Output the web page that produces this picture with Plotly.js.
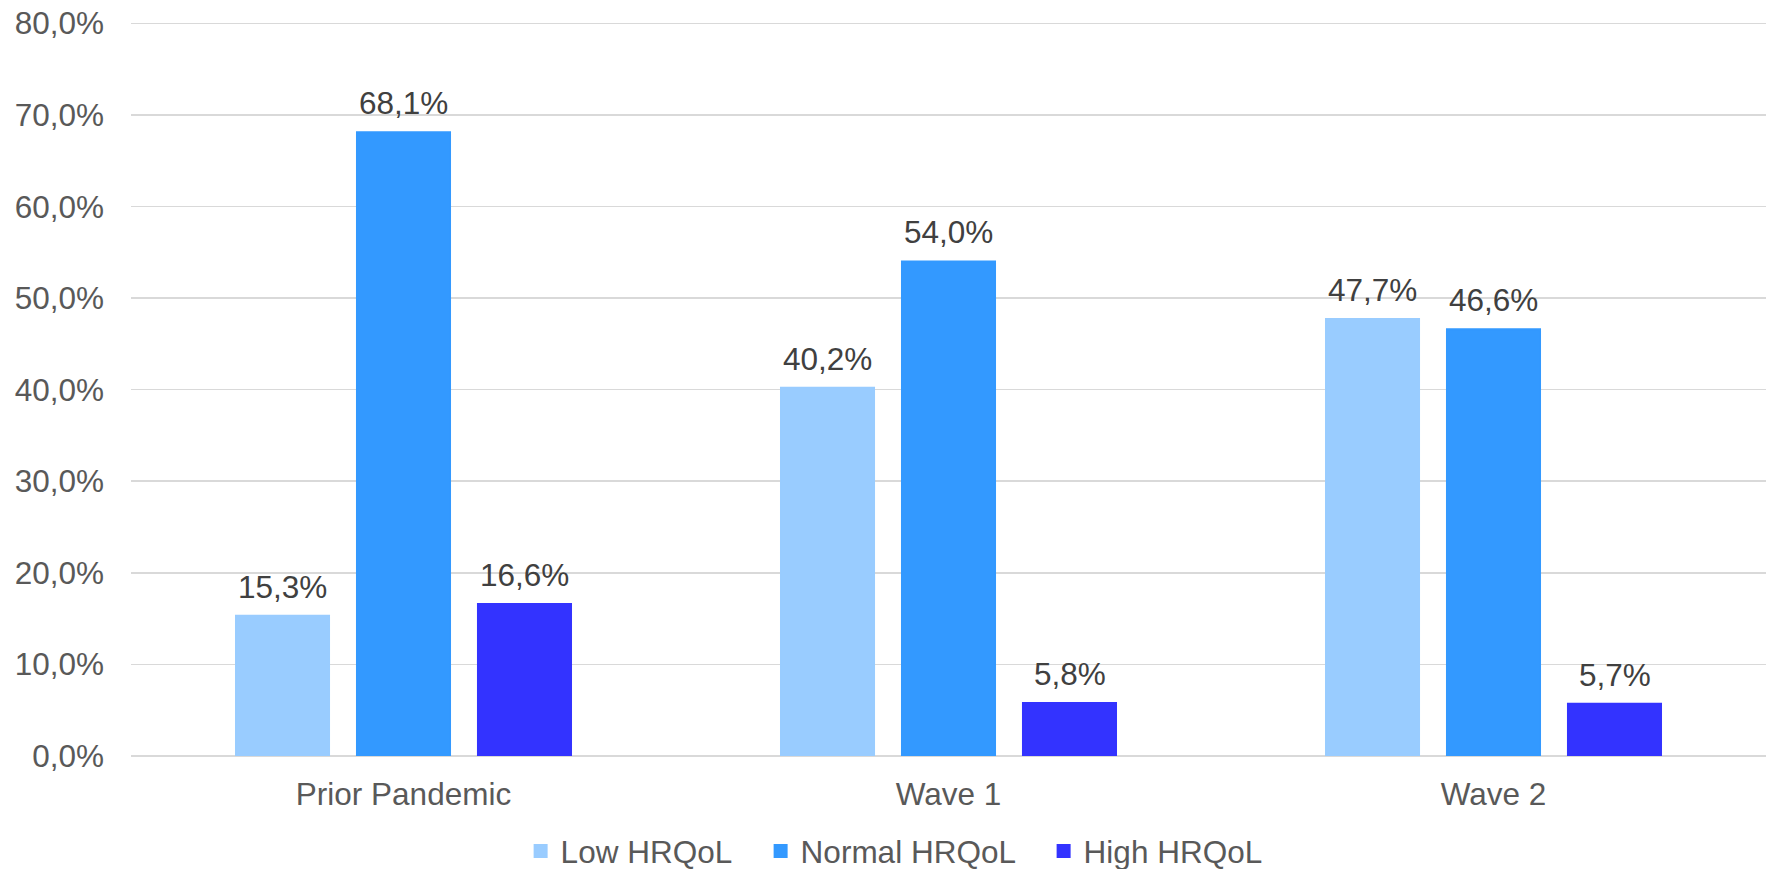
<!DOCTYPE html>
<html>
<head>
<meta charset="utf-8">
<script src="https://cdn.plot.ly/plotly-3.0.1.min.js"></script>
<style>html,body{margin:0;padding:0;background:#fff;}#chart{width:1771px;height:869px;}</style>
</head>
<body>
<div id="chart"></div>
<script>
const categories = ["Prior Pandemic", "Wave 1", "Wave 2"];
const lowHRQoL = [15.3, 40.2, 47.7];
const normalHRQoL = [68.1, 54.0, 46.6];
const highHRQoL = [16.6, 5.8, 5.7];
const seriesNames = ["Low HRQoL", "Normal HRQoL", "High HRQoL"];
const seriesColors = ["#99CCFF", "#3399FF", "#3333FF"];
const yTicks = [0, 10, 20, 30, 40, 50, 60, 70, 80];

const FONT = "Liberation Sans, Arial, sans-serif";
const FS = 31.5;
const seriesValues = [lowHRQoL, normalHRQoL, highHRQoL];
const legendWidths = [195, 238, 200];
const groupOffsets = [-121, 0, 121];

function fmt(v) { return v.toFixed(1).replace(".", ",") + "%"; }

const traces = seriesValues.map((vals, i) => ({
  type: "bar",
  name: seriesNames[i],
  x: categories,
  y: vals,
  marker: { color: seriesColors[i], line: { color: seriesColors[i], width: 2 } },
  legendwidth: legendWidths[i],
  hoverinfo: "skip"
}));

const annotations = [];
seriesValues.forEach((vals, i) => {
  vals.forEach((v, j) => {
    annotations.push({
      x: categories[j], y: v, xref: "x", yref: "y",
      text: fmt(v), showarrow: false,
      xanchor: "center", yanchor: "bottom",
      xshift: groupOffsets[i], yshift: 9,
      font: { family: FONT, size: FS, color: "#404040" }
    });
  });
});

const layout = {
  width: 1771,
  height: 869,
  margin: { l: 131, r: 5, t: 21, b: 113, autoexpand: false },
  paper_bgcolor: "#ffffff",
  plot_bgcolor: "#ffffff",
  separators: ",.",
  font: { family: FONT, size: FS, color: "#595959" },
  barmode: "group",
  bargap: 0.334,
  bargroupgap: 0.231,
  showlegend: true,
  annotations: annotations,
  legend: {
    orientation: "h",
    x: 0.2383,
    xanchor: "left",
    y: -0.1293,
    yanchor: "middle",
    itemwidth: 30,
    font: { family: FONT, size: FS, color: "#595959" },
    bgcolor: "rgba(0,0,0,0)",
    traceorder: "normal"
  },
  xaxis: {
    type: "category",
    showgrid: false,
    showline: false,
    ticks: "",
    tickfont: { family: FONT, size: FS, color: "#595959" },
    ticklabelstandoff: 16
  },
  yaxis: {
    range: [0, 80.25],
    tickmode: "array",
    tickvals: yTicks,
    ticktext: yTicks.map(fmt),
    showgrid: true,
    gridcolor: "#D9D9D9",
    gridwidth: 1.5,
    zeroline: true,
    zerolinecolor: "#D9D9D9",
    zerolinewidth: 1.5,
    showline: false,
    ticks: "",
    tickfont: { family: FONT, size: FS, color: "#595959" },
    ticklabelstandoff: 26
  }
};

Plotly.newPlot("chart", traces, layout, { displayModeBar: false, staticPlot: true });
</script>
</body>
</html>
